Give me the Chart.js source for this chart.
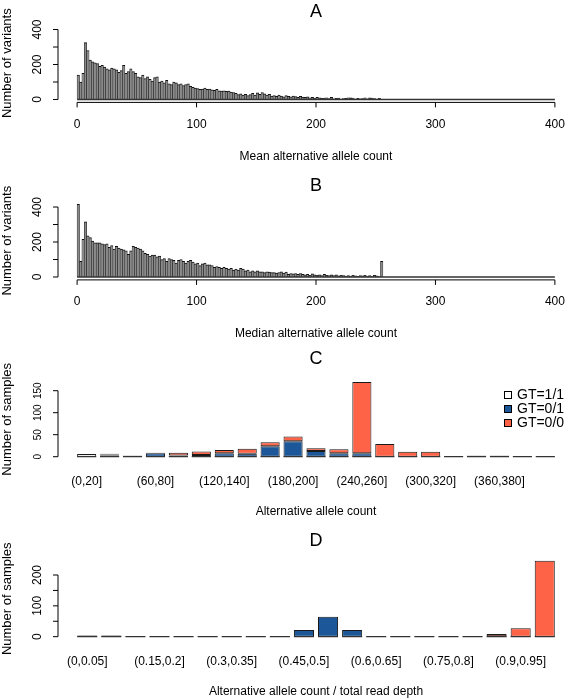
<!DOCTYPE html>
<html>
<head>
<meta charset="utf-8">
<script src="https://cdn.jsdelivr.net/npm/chart.js@4.4.0/dist/chart.umd.min.js"></script>
<style>
  html, body { margin: 0; padding: 0; background: #fff; overflow: hidden; }
  body { width: 567px; height: 700px; position: relative; }
  canvas { position: absolute; left: 0; top: 0; }
</style>
</head>
<body>
<canvas id="chartA" width="580" height="700"></canvas>
<canvas id="chartB" width="580" height="700"></canvas>
<canvas id="chartC" width="580" height="700"></canvas>
<canvas id="chartD" width="580" height="700"></canvas>
<script>
// histogram bins (A, B): width 2 from 0 to 400, counts listed up to the last non-empty bin
const histRange = [0, 400];
const histBinWidth = 2;
const meanCounts = [
  140, 100, 150, 325, 280, 225, 215, 210, 205, 190, 195, 185, 175, 170, 180, 175,
  170, 155, 165, 195, 150, 160, 175, 160, 150, 130, 125, 140, 120, 130, 115, 105,
  125, 130, 100, 105, 95, 110, 90, 85, 100, 95, 85, 90, 80, 85, 90, 75,
  70, 65, 62, 58, 60, 65, 58, 60, 55, 52, 58, 50, 48, 50, 46, 48,
  42, 40, 35, 28, 32, 25, 30, 22, 28, 35, 25, 38, 30, 40, 32, 25,
  30, 20, 22, 18, 25, 20, 15, 22, 18, 15, 20, 16, 12, 18, 14, 12,
  15, 10, 12, 8, 12, 10, 6, 8, 10, 5, 12, 4, 6, 8, 3, 5,
  6, 10, 9, 8, 3, 6, 4, 5, 10, 4, 9, 8, 5, 2, 6, 1
];
const medianCounts = [
  415, 90, 215, 315, 235, 225, 205, 195, 195, 195, 190, 185, 190, 170, 180, 160,
  175, 165, 160, 155, 150, 130, 150, 175, 170, 165, 160, 150, 135, 130, 120, 125,
  125, 115, 120, 100, 105, 90, 105, 100, 95, 80, 95, 100, 90, 80, 90, 95,
  85, 75, 80, 65, 75, 80, 70, 70, 65, 55, 60, 55, 50, 55, 50, 45,
  50, 40, 45, 40, 50, 45, 35, 40, 30, 35, 30, 35, 30, 30, 25, 30,
  28, 25, 25, 22, 25, 30, 22, 28, 15, 20, 18, 20, 15, 20, 15, 12,
  15, 10, 18, 12, 10, 12, 8, 15, 10, 8, 12, 8, 12, 6, 10, 8,
  5, 8, 5, 10, 6, 4, 8, 6, 10, 5, 8, 4, 10, 6, 3, 90
];
const histXTicks = [0, 100, 200, 300, 400];
const histYTicks = [0, 100, 200, 300, 400];
const histYLabels = [0, 200, 400];

// panel C: alternative allele count
const countBins = ["(0,20]", "(20,40]", "(40,60]", "(60,80]", "(80,100]", "(100,120]", "(120,140]",
  "(140,160]", "(160,180]", "(180,200]", "(200,220]", "(220,240]", "(240,260]", "(260,280]",
  "(280,300]", "(300,320]", "(320,340]", "(340,360]", "(360,380]", "(380,400]", "(400,420]"];
const countHom = [6, 3, 1, 0, 0, 0, 0, 0, 0, 0, 0, 0, 0, 0, 0, 0, 0, 1, 1, 0, 0];
const countHet = [0, 2, 1, 8, 3, 4, 8, 7, 24, 35, 13, 8, 8, 0, 0, 0, 0, 1, 1, 0, 0];
const countRef = [0, 2, 1, 1, 6, 8, 7, 11, 9, 11, 6, 9, 162, 29, 11, 11, 0, 1, 1, 0, 0];
const countYTicks = [0, 50, 100, 150];

// panel D: allele count / read depth
const ratioBins = ["(0,0.05]", "(0.05,0.1]", "(0.1,0.15]", "(0.15,0.2]", "(0.2,0.25]", "(0.25,0.3]",
  "(0.3,0.35]", "(0.35,0.4]", "(0.4,0.45]", "(0.45,0.5]", "(0.5,0.55]", "(0.55,0.6]", "(0.6,0.65]",
  "(0.65,0.7]", "(0.7,0.75]", "(0.75,0.8]", "(0.8,0.85]", "(0.85,0.9]", "(0.9,0.95]", "(0.95,1]"];
const ratioHom = [2, 2, 0, 0, 0, 0, 0, 0, 0, 0, 0, 0, 0, 0, 0, 0, 0, 0, 0, 0];
const ratioHet = [2, 2, 0, 0, 0, 0, 0, 0, 0, 22, 65, 22, 0, 0, 0, 0, 0, 1, 0, 0];
const ratioRef = [1, 1, 0, 0, 0, 0, 0, 0, 0, 0, 0, 0, 0, 0, 0, 0, 0, 8, 27, 246];
const ratioYTicks = [0, 50, 100, 150, 200];
const ratioYLabels = [0, 100, 200];

const genotypeLabels = ["GT=1/1", "GT=0/1", "GT=0/0"];
const genotypeColors = ["#ffffff", "#1b5799", "#ff6347"];

const FONT = "'Liberation Sans', Arial, sans-serif";

// R-like axes, titles and legend drawn on top of the chart area
const rAxes = {
  id: "rAxes",
  afterDatasetsDraw(chart, args, o) {
    const { ctx, scales: { x, y } } = chart;
    const y0 = y.getPixelForValue(0);
    ctx.save();
    ctx.strokeStyle = "#333";
    ctx.lineWidth = 1.3;
    ctx.beginPath();
    if (o.histRange) {
      ctx.moveTo(x.getPixelForValue(o.histRange[0]), y0);
      ctx.lineTo(x.getPixelForValue(o.histRange[1]), y0);
    } else {
      chart.getDatasetMeta(0).data.forEach((bar) => {
        ctx.moveTo(bar.x - bar.width / 2, y0);
        ctx.lineTo(bar.x + bar.width / 2, y0);
      });
    }
    ctx.stroke();
    ctx.restore();
  },
  afterDraw(chart, args, o) {
    const { ctx, chartArea: a, scales: { x, y } } = chart;
    const left = o.axisLeft || a.left;
    const bottom = a.bottom;
    const midX = (a.left + a.right) / 2;
    ctx.save();
    ctx.strokeStyle = "#000";
    ctx.fillStyle = "#000";
    ctx.lineWidth = 1;

    const yt = o.yTicks.map((v) => y.getPixelForValue(v));
    ctx.beginPath();
    ctx.moveTo(left, yt[0]);
    ctx.lineTo(left, yt[yt.length - 1]);
    yt.forEach((py) => { ctx.moveTo(left, py); ctx.lineTo(left - 5, py); });
    if (o.xTicks) {
      const xt = o.xTicks.map((v) => x.getPixelForValue(v));
      ctx.moveTo(xt[0], bottom);
      ctx.lineTo(xt[xt.length - 1], bottom);
      xt.forEach((px) => { ctx.moveTo(px, bottom); ctx.lineTo(px, bottom + 5); });
    }
    ctx.stroke();

    ctx.textAlign = "center";
    ctx.textBaseline = "middle";
    ctx.font = `${o.yTickFont || 12}px ${FONT}`;
    (o.yLabels || o.yTicks).forEach((v) => {
      ctx.save();
      ctx.translate(left - 20, y.getPixelForValue(v));
      ctx.rotate(-Math.PI / 2);
      ctx.fillText(String(v), 0, 0);
      ctx.restore();
    });
    ctx.font = `12px ${FONT}`;
    if (o.xTicks) {
      o.xTicks.forEach((v) => ctx.fillText(String(v), x.getPixelForValue(v), bottom + 22));
    } else {
      chart.data.labels.forEach((lab, i) => {
        if (i % o.labelEvery === 0) ctx.fillText(lab, x.getPixelForValue(i), bottom + 22);
      });
    }
    ctx.fillText(o.xTitle, midX, bottom + o.xTitleGap);
    ctx.font = `13px ${FONT}`;
    ctx.save();
    ctx.translate(left - 51, (a.top + a.bottom) / 2);
    ctx.rotate(-Math.PI / 2);
    ctx.fillText(o.yTitle, 0, 0);
    ctx.restore();

    ctx.font = `18px ${FONT}`;
    ctx.fillText(o.title, midX, o.titleY);

    if (o.legend) {
      ctx.font = `14px ${FONT}`;
      ctx.textAlign = "left";
      chart.data.datasets.forEach((ds, i) => {
        const cy = o.legend.y + i * o.legend.step;
        ctx.fillStyle = ds.backgroundColor;
        ctx.fillRect(o.legend.x, cy - 4, 8, 8);
        ctx.strokeRect(o.legend.x + 0.5, cy - 3.5, 7, 7);
        ctx.fillStyle = "#000";
        ctx.fillText(ds.label, o.legend.x + 13, cy);
      });
    }
    ctx.restore();
  },
};

function padding(area) {
  return { left: area.left, right: 580 - area.right, top: area.top, bottom: 700 - area.bottom };
}

function histChart(id, counts, title, xTitle, area, titleY) {
  return new Chart(document.getElementById(id), {
    type: "bar",
    data: {
      datasets: [{
        data: counts.map((v, i) => ({ x: histRange[0] + histBinWidth * (i + 0.5), y: v })),
        backgroundColor: "#8a8a8a",
        borderColor: "#111",
        borderWidth: { top: 1, left: 0.5, right: 0.5, bottom: 0 },
        barPercentage: 1,
        categoryPercentage: 1,
      }],
    },
    options: {
      responsive: false,
      animation: false,
      layout: { padding: padding(area) },
      scales: {
        x: { type: "linear", display: false, offset: false, min: -16, max: 416 },
        y: { display: false, min: -16.6, max: 431.6 },
      },
      plugins: {
        legend: { display: false },
        tooltip: { enabled: false },
        rAxes: {
          title, xTitle, yTitle: "Number of variants", titleY, xTitleGap: 54,
          histRange, xTicks: histXTicks, yTicks: histYTicks, yLabels: histYLabels,
        },
      },
    },
    plugins: [rAxes],
  });
}

function stackChart(id, bins, series, yLim, opts) {
  return new Chart(document.getElementById(id), {
    type: "bar",
    data: {
      labels: bins,
      datasets: series.map((vals, i) => ({
        label: genotypeLabels[i],
        data: vals,
        backgroundColor: genotypeColors[i],
        borderColor: "#1a1a1a",
        borderWidth: 1,
        borderSkipped: false,
        barPercentage: 1 / 1.2,
        categoryPercentage: 1,
      })),
    },
    options: {
      responsive: false,
      animation: false,
      layout: { padding: padding(opts.area) },
      scales: {
        x: { display: false, stacked: true, offset: true },
        y: { display: false, stacked: true, min: yLim[0], max: yLim[1] },
      },
      plugins: {
        legend: { display: false },
        tooltip: { enabled: false },
        rAxes: Object.assign({ yTitle: "Number of samples", axisLeft: 58, labelEvery: 3, xTitleGap: 52 }, opts),
      },
    },
    plugins: [rAxes],
  });
}

histChart("chartA", meanCounts, "A", "Mean alternative allele count",
  { left: 58, right: 574, top: 24.0, bottom: 102.4 }, 12);
histChart("chartB", medianCounts, "B", "Median alternative allele count",
  { left: 58, right: 574, top: 201.5, bottom: 279.9 }, 186);

stackChart("chartC", countBins, [countHom, countHet, countRef], [-6.8, 176.8], {
  title: "C", titleY: 359, xTitle: "Alternative allele count",
  area: { left: 75.2, right: 556.8, top: 378.9, bottom: 459.7 },
  yTicks: countYTicks, yTickFont: 10,
  legend: { x: 504, y: 395, step: 14 },
});

stackChart("chartD", ratioBins, [ratioHom, ratioHet, ratioRef], [-9.84, 255.84], {
  title: "D", titleY: 541, xTitle: "Alternative allele count / total read depth",
  area: { left: 75.2, right: 556.8, top: 557.8, bottom: 639.7 },
  yTicks: ratioYTicks, yLabels: ratioYLabels,
});
</script>
</body>
</html>
